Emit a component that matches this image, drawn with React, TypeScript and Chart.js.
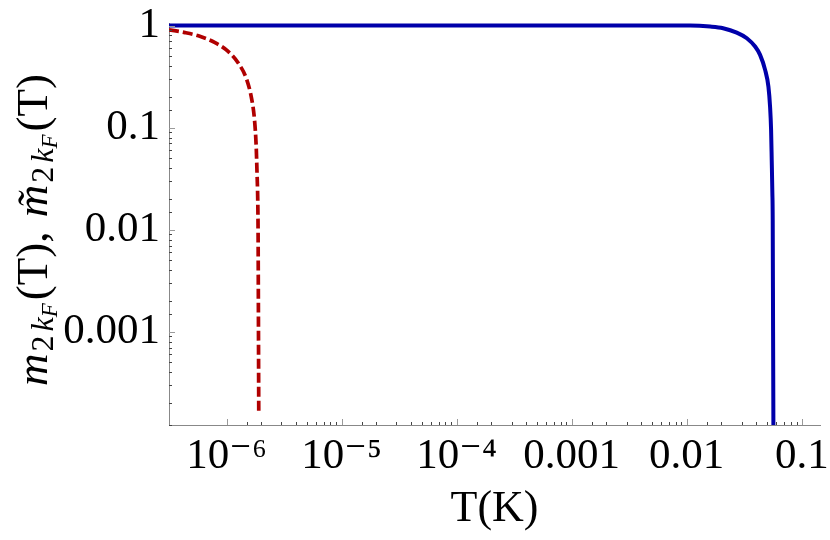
import React, { useEffect, useRef } from 'react';
import { Chart, registerables } from 'chart.js';

Chart.register(...registerables);

// ---- data ----
const blueT = [3.16e-7, 1e-5, 1e-3, 0.0107, 0.016, 0.0207, 0.0272, 0.0333, 0.0393, 0.0434, 0.048, 0.0513, 0.053, 0.0541, 0.0548, 0.0555, 0.0559, 0.0563, 0.0567];
const blueM = [1, 1, 1, 1, 0.978, 0.943, 0.854, 0.752, 0.623, 0.516, 0.368, 0.252, 0.161, 0.095, 0.048, 0.0229, 0.0124, 0.001, 0.0001];

const redT = [3.16e-7, 4.36e-7, 5.69e-7, 7.94e-7, 1.037e-6, 1.268e-6, 1.5e-6, 1.66e-6, 1.75e-6, 1.81e-6, 1.84e-6, 1.867e-6, 1.88e-6, 1.89e-6, 1.905e-6];
const redM = [0.91, 0.854, 0.793, 0.681, 0.556, 0.428, 0.294, 0.186, 0.119, 0.0651, 0.036, 0.0195, 0.0093, 0.00204, 0.00016];

const xTickValues = [1e-6, 1e-5, 1e-4, 1e-3, 1e-2, 1e-1];
const xTickLabels = ['10\u207B\u2076', '10\u207B\u2075', '10\u207B\u2074', '0.001', '0.01', '0.1'];
const yTickValues = [1e-3, 1e-2, 1e-1, 1];
const yTickLabels = ['0.001', '0.01', '0.1', '1'];

const xMin = 3.16e-7;
const xMax = 0.144;
const yMin = 1.22e-4;
const yMax = 1.06;

const xTitle = 'T(K)';

const SERIF = "'Liberation Serif', 'Times New Roman', 'DejaVu Serif', serif";

function labelFor(v: number, values: number[], labels: string[]) {
  for (let i = 0; i < values.length; i++) {
    if (Math.abs(Math.log10(v) - Math.log10(values[i])) < 1e-6) return labels[i];
  }
  return '';
}

const innerTicksPlugin = {
  id: 'innerTicks',
  afterDraw(chart: any) {
    const ctx = chart.ctx;
    const area = chart.chartArea;
    ctx.save();
    ctx.lineWidth = 1;
    const xs = chart.scales.x;
    xs.ticks.forEach((t: any) => {
      const v = t.value;
      if (v < xTickValues[0] * 0.999 || v > xTickValues[xTickValues.length - 1] * 1.001) return;
      const major = labelFor(v, xTickValues, xTickLabels) !== '';
      const px = Math.round(xs.getPixelForValue(v)) + 0.5;
      ctx.strokeStyle = major ? '#9a9a9a' : '#444';
      ctx.beginPath();
      ctx.moveTo(px, area.bottom);
      ctx.lineTo(px, area.bottom - (major ? 6 : 3));
      ctx.stroke();
    });
    const ys = chart.scales.y;
    ys.ticks.forEach((t: any) => {
      const v = t.value;
      if (v > 1.001) return;
      const major = labelFor(v, yTickValues, yTickLabels) !== '';
      const py = Math.round(ys.getPixelForValue(v)) + 0.5;
      ctx.strokeStyle = major ? '#9a9a9a' : '#444';
      ctx.beginPath();
      ctx.moveTo(area.left, py);
      ctx.lineTo(area.left + (major ? 6 : 3), py);
      ctx.stroke();
    });
    ctx.restore();
  },
};

type Seg = { t: string; size: number; italic: boolean; dy: number; gap: number };
const subPart: Seg[] = [
  { t: '2', size: 32, italic: false, dy: 6, gap: 4 },
  { t: 'k', size: 32, italic: true, dy: 6, gap: 0 },
  { t: 'F', size: 23, italic: true, dy: 10, gap: 3 },
];
const titleSegs: Seg[] = [
  { t: 'm', size: 45, italic: true, dy: 0, gap: 2 },
  ...subPart,
  { t: '(T), ', size: 45, italic: false, dy: 0, gap: 3 },
  { t: 'm\u0303', size: 45, italic: true, dy: 0, gap: 2 },
  ...subPart,
  { t: '(T)', size: 45, italic: false, dy: 0, gap: 0 },
];

const yTitlePlugin = {
  id: 'yTitleRich',
  afterDraw(chart: any) {
    const ctx = chart.ctx;
    ctx.save();
    ctx.translate(47, 230);
    ctx.rotate(-Math.PI / 2);
    ctx.fillStyle = '#000';
    ctx.textBaseline = 'alphabetic';
    ctx.textAlign = 'left';
    const fontOf = (s: Seg) => `${s.italic ? 'italic ' : ''}${s.size}px ${SERIF}`;
    let total = 0;
    titleSegs.forEach((s) => {
      ctx.font = fontOf(s);
      total += ctx.measureText(s.t).width + s.gap;
    });
    let x = -total / 2;
    titleSegs.forEach((s) => {
      ctx.font = fontOf(s);
      ctx.fillText(s.t, x, s.dy);
      x += ctx.measureText(s.t).width + s.gap;
    });
    ctx.restore();
  },
};

export default function App() {
  const ref = useRef<HTMLCanvasElement | null>(null);
  useEffect(() => {
    if (!ref.current) return;
    const chart = new Chart(ref.current, {
      type: 'line',
      data: {
        datasets: [
          {
            label: 'm',
            data: blueT.map((t, i) => ({ x: t, y: blueM[i] })),
            borderColor: '#0000aa',
            borderWidth: 4,
            pointRadius: 0,
            fill: false,
            cubicInterpolationMode: 'monotone',
          },
          {
            label: 'm tilde',
            data: redT.map((t, i) => ({ x: t, y: redM[i] })),
            borderColor: '#b00000',
            borderWidth: 3.7,
            borderDash: [10, 4],
            pointRadius: 0,
            fill: false,
            cubicInterpolationMode: 'monotone',
          },
        ],
      },
      options: {
        animation: false,
        responsive: false,
        maintainAspectRatio: false,
        layout: { padding: { left: 0, right: 10, top: 23, bottom: 0 } },
        plugins: { legend: { display: false }, tooltip: { enabled: false } },
        scales: {
          x: {
            type: 'logarithmic',
            min: xMin,
            max: xMax,
            grid: { display: false, drawTicks: false },
            border: { display: true, color: '#888', width: 1 },
            ticks: {
              autoSkip: false,
              maxRotation: 0,
              padding: 6,
              color: '#000',
              font: { family: SERIF, size: 43 },
              callback: (v: any) => labelFor(Number(v), xTickValues, xTickLabels),
            },
            title: {
              display: true,
              text: xTitle,
              color: '#000',
              font: { family: SERIF, size: 44 },
              padding: { top: 0, bottom: 4 },
            },
            afterFit: (s: any) => {
              s.height = 115;
              s.paddingLeft = 0;
              s.paddingRight = 0;
            },
          },
          y: {
            type: 'logarithmic',
            min: yMin,
            max: yMax,
            grid: { display: false, drawTicks: false },
            border: { display: true, color: '#888', width: 1 },
            ticks: {
              autoSkip: false,
              padding: 9,
              color: '#000',
              font: { family: SERIF, size: 43 },
              callback: (v: any) => labelFor(Number(v), yTickValues, yTickLabels),
            },
            afterFit: (s: any) => {
              s.width = 169;
              s.paddingTop = 0;
              s.paddingBottom = 0;
            },
          },
        },
      },
      plugins: [innerTicksPlugin, yTitlePlugin],
    } as any);
    return () => chart.destroy();
  }, []);
  return (
    <div style={{ position: 'fixed', left: 0, top: 0, width: 830, height: 540, background: '#fff' }}>
      <canvas ref={ref} width={830} height={540} style={{ width: 830, height: 540, display: 'block' }} />
    </div>
  );
}
